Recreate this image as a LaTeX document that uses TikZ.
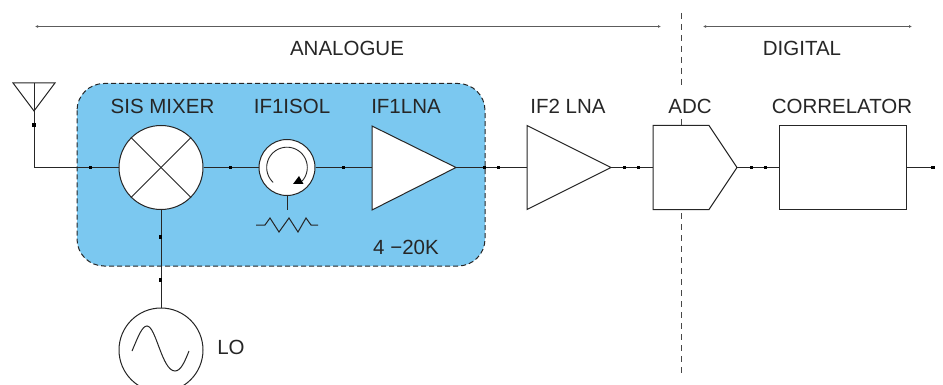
\documentclass[tikz,border=0pt]{standalone}
\usepackage{fontspec}
\setmainfont{Liberation Sans}
\usetikzlibrary{arrows.meta,calc}
\definecolor{panel}{HTML}{7BC8F0}
\definecolor{ink}{HTML}{262626}
\tikzset{
  wire/.style={draw=ink,line width=1pt},
  shapeline/.style={draw=ink,line width=1pt,fill=white,line join=miter},
  roundel/.style={circle,draw=ink,line width=1pt,fill=white,inner sep=0pt},
  junction/.style={rectangle,fill=black,inner sep=0pt,minimum size=3.8pt},
  lbl/.style={text=ink,font=\fontsize{20.5}{24}\selectfont,inner sep=0pt,anchor=center},
  divider/.style={draw=ink!85,line width=1pt,dash pattern=on 6pt off 5pt},
  span/.style={draw=ink!75,line width=1pt,{Latex[length=3pt,width=3pt]}-{Latex[length=3pt,width=3pt]}}
}
\begin{document}
\begin{tikzpicture}[x=1pt,y=-1pt]
\useasboundingbox (0,0) rectangle (943,385);
\clip (0,0) rectangle (943,385);
% coordinates
\coordinate (dtop) at (681,13); \coordinate (dmid) at (681,87);
\coordinate (dstubA) at (681,119); \coordinate (dstubB) at (681,125);
\coordinate (dlow) at (681,213); \coordinate (dbot) at (681,376);
\coordinate (anL) at (35,26.5); \coordinate (anR) at (661,26.5);
\coordinate (diL) at (703,26.5); \coordinate (diR) at (912,26.5);
\coordinate (antL) at (13,83); \coordinate (antR) at (55,83); \coordinate (antT) at (34,83); \coordinate (antA) at (34,111);
\coordinate (corner) at (34,167.5);
\coordinate (lna1in) at (372,167.5); \coordinate (lna1out) at (456,167.5);
\coordinate (lna2in) at (527,167.5); \coordinate (lna2out) at (611,167.5);
\coordinate (adcin) at (653,167.5); \coordinate (adcout) at (737,167.5);
\coordinate (corrin) at (779,167.5); \coordinate (corrout) at (906,167.5);
\coordinate (outend) at (933,167.5);
\coordinate (isoStub) at (287,210);
% blue panel
\draw[fill=panel,draw=ink,line width=1pt,dash pattern=on 5pt off 3pt,rounded corners=27pt] (77,83.5) rectangle (485,266);
% divider
\draw[divider] (dtop) -- (dmid);
\draw[divider] (dstubA) -- (dstubB);
\draw[divider] (dlow) -- (dbot);
% spans
\draw[span] (anL) -- (anR);
\draw[span] (diL) -- (diR);
% round parts
\node[roundel,minimum size=84pt] (mix) at (161,167.5) {};
\node[roundel,minimum size=56pt] (iso) at (287,167.5) {};
\node[roundel,minimum size=84pt] (lo) at (161,350) {};
% wires
\draw[wire] (antT) -- (corner) -- (mix.west);
\draw[wire] (mix.east) -- (iso.west);
\draw[wire] (iso.east) -- (lna1in);
\draw[wire] (lna1out) -- (lna2in);
\draw[wire] (lna2out) -- (adcin);
\draw[wire] (adcout) -- (corrin);
\draw[wire] (corrout) -- (outend);
\draw[wire] (mix.south) -- (lo.north);
\draw[wire] (iso.south) -- (isoStub);
% antenna
\draw[wire,line join=miter] (antL) -- (antR) -- (antA) -- cycle;
% mixer cross
\draw[wire] (mix.north west) -- (mix.south east);
\draw[wire] (mix.north east) -- (mix.south west);
% isolator
\draw[wire,line width=0.9pt] plot[domain=133:402,samples=60,smooth] ({287+20.3*cos(\x)},{167.5+20.3*sin(\x)});
\fill[black] (293,184) -- (303.5,184) -- (299,176) -- cycle;
% resistor
\draw[wire,line join=miter] (256,225) -- (265,225) -- (270,218) -- (279,232) -- (289,218) -- (298,232) -- (306,218) -- (311,225) -- (318,225);
% amplifiers
\draw[shapeline] (372,126) -- (456,167.5) -- (372,210) -- cycle;
\draw[shapeline] (527,125.5) -- (611,167.5) -- (527,209.5) -- cycle;
\draw[shapeline] (653,125.5) -- (709,125.5) -- (737,167.5) -- (709,209.5) -- (653,209.5) -- cycle;
\draw[shapeline] (779,125.5) rectangle (906,209.5);
% sine
\draw[wire] (132,351) .. controls (138,337) and (142,326) .. (147,326) .. controls (156,326) and (162,371) .. (175,371) .. controls (181,371) and (185,361) .. (189,351);
% junctions
\foreach \n/\x/\y in {j1/34/125,j2/90.5/167.5,j3/230.5/167.5,j4/343.5/167.5,j5/484.5/167.5,j6/498.5/167.5,j7/624.5/167.5,j8/638.5/167.5,j9/751.5/167.5,j10/765.5/167.5,j11/160.5/237,j12/160.5/280,j13/933/167.5}
  \node[junction] (\n) at (\x,\y) {};
% labels
\node[lbl] (tAn) at (347,48) {ANALOGUE};
\node[lbl] (tDi) at (802,48) {DIGITAL};
\node[lbl] (tMix) at (162.5,106) {SIS MIXER};
\node[lbl] (tIso) at (292,106) {IF1ISOL};
\node[lbl] (tL1) at (406,106) {IF1LNA};
\node[lbl] (tL2) at (568,106) {IF2 LNA};
\node[lbl] (tAdc) at (690,106) {ADC};
\node[lbl] (tCor) at (842,106) {CORRELATOR};
\node[lbl] (tK) at (406,247) {4 −20K};
\node[lbl] (tLo) at (231,347) {LO};
\end{tikzpicture}
\end{document}
